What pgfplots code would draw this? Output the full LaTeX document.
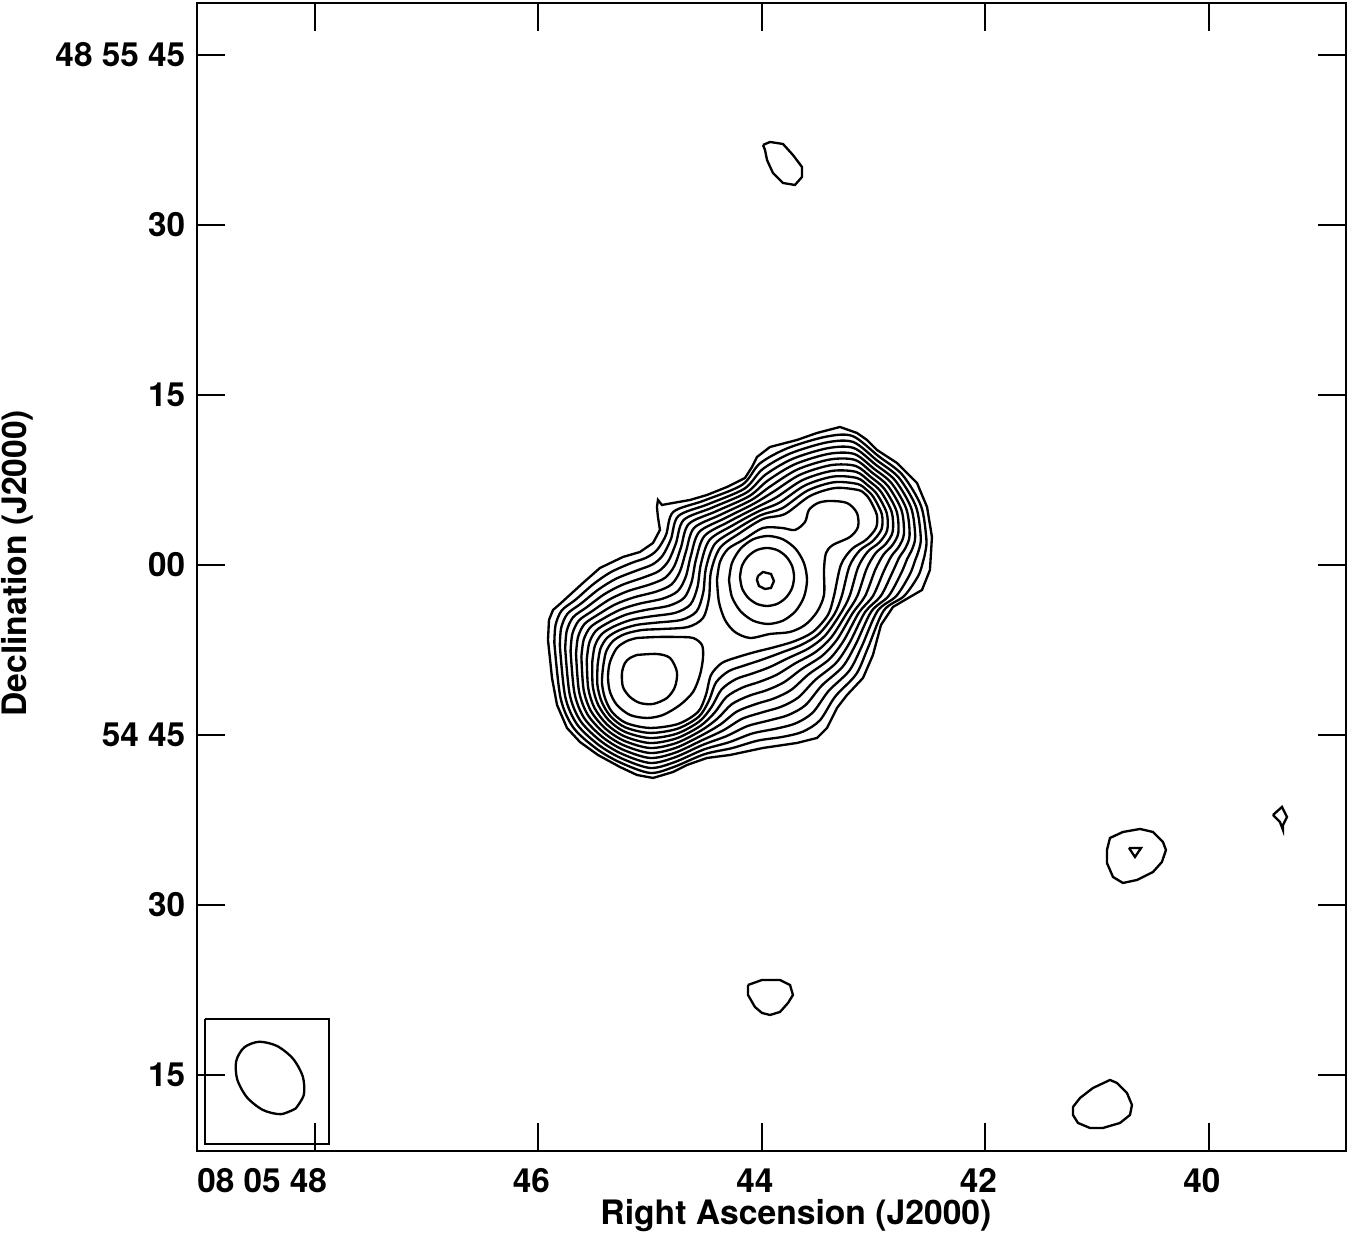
\documentclass[border=0pt]{standalone}
\usepackage{fontspec}
\setmainfont{TeX Gyre Heros}
\usepackage{pgfplots}
\pgfplotsset{compat=1.18}
\begin{document}
\begin{tikzpicture}
\begin{axis}[name=ax, scale only axis, width=344.7pt, height=344.4pt,
 x dir=reverse, xmin=38.774, xmax=49.056, ymin=-51.706, ymax=49.588,
 xtick={48,46,44,42,40}, xticklabels={\makebox[11.4pt][r]{08 05 48},46,44,42,40},
 ytick={-45,-30,-15,0,15,30,45}, yticklabels={15,30,54 45,00,15,30,48 55 45},
 tick align=inside, tick pos=both, major tick length=8.5pt,
 every tick/.style={black, line width=0.6pt},
 axis line style={line width=0.6pt},
 ticklabel style={font=\fontsize{10}{12}\selectfont\bfseries},
 xticklabel style={yshift=-1.8pt, xshift=-2.1pt},
 label style={font=\fontsize{10.1}{12}\selectfont\bfseries},
 xlabel={Right Ascension (J2000)}, ylabel={Declination (J2000)},
 xlabel style={at={(axis description cs:0.5213,-0.0560)}, anchor=center},
 ylabel style={at={(axis description cs:-0.1567,0.512)}, anchor=center},
 ct/.style={black, line width=0.7pt, mark=none, smooth, tension=0.5},
 cp/.style={black, line width=0.7pt, mark=none},
]
% outermost contour
\addplot[cp] coordinates {(45.915,-6.618)(45.906,-4.853)(45.870,-3.971)(45.808,-3.441)(45.602,-1.588)(45.450,-0.265)(45.244,0.706)(45.092,1.147)(44.975,1.941)(44.913,3.088)(44.931,4.235)(44.940,5.118)(44.931,5.735)(44.895,5.294)(44.796,5.471)(44.644,5.735)(44.492,6.176)(44.313,6.882)(44.152,7.676)(44.089,8.647)(44.045,9.529)(43.928,10.412)(43.687,11.029)(43.508,11.647)(43.302,12.176)(43.150,11.647)(43.060,11.029)(42.971,10.147)(42.792,9.000)(42.613,7.235)(42.523,5.118)(42.479,2.471)(42.497,-0.441)(42.568,-2.206)(42.676,-2.824)(42.828,-3.706)(42.935,-5.294)(43.007,-7.941)(43.096,-9.971)(43.239,-11.471)(43.329,-12.618)(43.418,-14.382)(43.508,-15.265)(43.687,-15.706)(43.991,-16.147)(44.286,-16.765)(44.492,-17.029)(44.671,-17.647)(44.796,-18.265)(44.975,-18.794)(45.119,-18.529)(45.271,-17.824)(45.468,-16.765)(45.629,-15.618)(45.745,-14.382)(45.834,-12.353)(45.879,-9.971)(45.915,-6.618)};
% C2
\addplot[ct] coordinates {(45.858,-6.87)(45.847,-5.29)(45.792,-4.01)(45.669,-3.07)(45.509,-1.69)(45.354,-0.64)(45.170,0.17)(45.036,0.64)(44.941,1.30)(44.859,2.64)(44.794,4.68)(44.519,5.68)(44.176,7.08)(44.020,8.95)(43.772,10.30)(43.427,11.32)(43.190,11.38)(42.957,9.60)(42.744,7.96)(42.577,5.21)(42.529,2.31)(42.538,1.17)(42.559,0.30)(42.601,-0.95)(42.728,-2.74)(42.910,-4.02)(43.053,-7.34)(43.157,-9.64)(43.344,-11.60)(43.482,-13.71)(43.635,-14.71)(43.811,-15.16)(44.038,-15.50)(44.268,-16.16)(44.516,-16.70)(44.793,-17.84)(45.002,-18.35)(45.266,-17.44)(45.479,-16.23)(45.687,-14.36)(45.802,-11.76)(45.858,-6.87)};
% C3
\addplot[ct] coordinates {(45.809,-7.11)(45.797,-5.56)(45.741,-4.31)(45.620,-3.41)(45.460,-2.14)(45.303,-1.20)(45.113,-0.46)(44.979,0.05)(44.889,0.83)(44.815,2.28)(44.748,4.32)(44.483,5.36)(44.156,6.74)(43.995,8.45)(43.749,9.83)(43.418,10.82)(43.184,10.85)(42.971,9.23)(42.776,7.71)(42.621,5.12)(42.579,2.42)(42.597,1.29)(42.629,0.42)(42.678,-0.85)(42.798,-2.74)(42.966,-4.06)(43.107,-7.18)(43.218,-9.32)(43.404,-11.12)(43.547,-13.04)(43.700,-13.98)(43.872,-14.44)(44.084,-14.86)(44.294,-15.64)(44.523,-16.29)(44.788,-17.42)(45.002,-17.91)(45.260,-17.05)(45.464,-15.86)(45.655,-14.06)(45.761,-11.61)(45.809,-7.11)};
% C4
\addplot[ct] coordinates {(45.761,-7.36)(45.747,-5.82)(45.690,-4.61)(45.570,-3.74)(45.412,-2.59)(45.252,-1.76)(45.057,-1.09)(44.923,-0.54)(44.837,0.36)(44.770,1.91)(44.701,3.97)(44.448,5.05)(44.135,6.41)(43.970,7.96)(43.727,9.36)(43.409,10.31)(43.179,10.32)(42.984,8.86)(42.809,7.47)(42.665,5.03)(42.629,2.52)(42.656,1.40)(42.700,0.55)(42.755,-0.74)(42.867,-2.74)(43.021,-4.10)(43.162,-7.02)(43.279,-8.99)(43.464,-10.63)(43.611,-12.37)(43.764,-13.24)(43.933,-13.71)(44.131,-14.22)(44.320,-15.11)(44.529,-15.87)(44.784,-16.99)(45.002,-17.47)(45.255,-16.66)(45.448,-15.50)(45.624,-13.77)(45.720,-11.46)(45.761,-7.36)};
% C5
\addplot[ct] coordinates {(45.713,-7.61)(45.697,-6.09)(45.639,-4.91)(45.521,-4.08)(45.364,-3.04)(45.201,-2.31)(45.000,-1.71)(44.867,-1.13)(44.785,-0.11)(44.725,1.55)(44.655,3.62)(44.412,4.73)(44.115,6.07)(43.945,7.47)(43.705,8.89)(43.400,9.81)(43.174,9.79)(42.998,8.49)(42.841,7.22)(42.708,4.94)(42.679,2.63)(42.715,1.52)(42.771,0.67)(42.832,-0.64)(42.937,-2.74)(43.077,-4.15)(43.216,-6.86)(43.339,-8.66)(43.524,-10.15)(43.676,-11.70)(43.829,-12.51)(43.993,-12.99)(44.177,-13.57)(44.346,-14.59)(44.535,-15.46)(44.779,-16.57)(45.002,-17.03)(45.250,-16.27)(45.433,-15.14)(45.593,-13.48)(45.678,-11.31)(45.713,-7.61)};
% C6
\addplot[ct] coordinates {(45.664,-7.85)(45.646,-6.35)(45.588,-5.21)(45.472,-4.41)(45.315,-3.49)(45.150,-2.87)(44.944,-2.34)(44.810,-1.72)(44.734,-0.57)(44.680,1.19)(44.608,3.26)(44.376,4.41)(44.094,5.74)(43.920,6.97)(43.682,8.43)(43.391,9.31)(43.168,9.27)(43.011,8.12)(42.873,6.97)(42.752,4.85)(42.730,2.74)(42.774,1.63)(42.841,0.79)(42.909,-0.53)(43.007,-2.74)(43.132,-4.19)(43.271,-6.71)(43.400,-8.34)(43.584,-9.66)(43.740,-11.03)(43.893,-11.78)(44.054,-12.27)(44.224,-12.93)(44.372,-14.07)(44.541,-15.04)(44.775,-16.15)(45.002,-16.59)(45.244,-15.88)(45.418,-14.78)(45.561,-13.19)(45.637,-11.16)(45.664,-7.85)};
% C7
\addplot[ct] coordinates {(45.616,-8.10)(45.596,-6.62)(45.537,-5.51)(45.423,-4.75)(45.267,-3.94)(45.099,-3.42)(44.888,-2.97)(44.754,-2.31)(44.682,-1.04)(44.636,0.83)(44.562,2.91)(44.340,4.09)(44.074,5.40)(43.895,6.48)(43.660,7.96)(43.382,8.81)(43.163,8.74)(43.025,7.75)(42.905,6.72)(42.796,4.76)(42.780,2.84)(42.833,1.75)(42.912,0.92)(42.986,-0.42)(43.077,-2.74)(43.188,-4.24)(43.326,-6.55)(43.461,-8.01)(43.644,-9.18)(43.805,-10.36)(43.958,-11.05)(44.115,-11.54)(44.270,-12.28)(44.398,-13.55)(44.548,-14.63)(44.770,-15.72)(45.002,-16.15)(45.239,-15.49)(45.403,-14.42)(45.530,-12.90)(45.596,-11.01)(45.616,-8.10)};
% C8
\addplot[ct] coordinates {(45.568,-8.35)(45.546,-6.88)(45.486,-5.81)(45.373,-5.08)(45.219,-4.39)(45.048,-3.98)(44.831,-3.59)(44.697,-2.90)(44.630,-1.51)(44.591,0.47)(44.515,2.56)(44.304,3.78)(44.053,5.06)(43.870,5.98)(43.637,7.49)(43.373,8.30)(43.157,8.21)(43.038,7.38)(42.937,6.48)(42.840,4.68)(42.830,2.95)(42.892,1.86)(42.983,1.04)(43.063,-0.32)(43.147,-2.74)(43.243,-4.28)(43.380,-6.39)(43.522,-7.69)(43.704,-8.69)(43.869,-9.69)(44.022,-10.31)(44.176,-10.82)(44.317,-11.64)(44.424,-13.03)(44.554,-14.22)(44.766,-15.30)(45.002,-15.71)(45.233,-15.11)(45.388,-14.06)(45.499,-12.61)(45.555,-10.86)(45.568,-8.35)};
% C9
\addplot[ct] coordinates {(45.519,-8.59)(45.496,-7.15)(45.435,-6.11)(45.324,-5.42)(45.170,-4.84)(44.997,-4.54)(44.775,-4.22)(44.641,-3.49)(44.578,-1.98)(44.546,0.11)(44.469,2.21)(44.269,3.46)(44.032,4.73)(43.845,5.49)(43.615,7.02)(43.364,7.80)(43.152,7.68)(43.051,7.01)(42.970,6.23)(42.884,4.59)(42.880,3.05)(42.951,1.98)(43.054,1.17)(43.140,-0.21)(43.216,-2.74)(43.299,-4.32)(43.435,-6.23)(43.583,-7.36)(43.764,-8.21)(43.933,-9.02)(44.087,-9.58)(44.237,-10.09)(44.363,-11.00)(44.450,-12.51)(44.560,-13.80)(44.761,-14.88)(45.002,-15.27)(45.228,-14.72)(45.372,-13.69)(45.467,-12.32)(45.514,-10.71)(45.519,-8.59)};
% C10
\addplot[ct] coordinates {(45.471,-8.84)(45.446,-7.41)(45.384,-6.41)(45.275,-5.75)(45.122,-5.29)(44.946,-5.09)(44.719,-4.84)(44.585,-4.09)(44.526,-2.44)(44.501,-0.26)(44.422,1.85)(44.233,3.14)(44.012,4.39)(43.820,5.00)(43.593,6.56)(43.355,7.30)(43.147,7.15)(43.065,6.64)(43.002,5.98)(42.928,4.50)(42.930,3.16)(43.011,2.09)(43.124,1.29)(43.217,-0.11)(43.286,-2.74)(43.354,-4.37)(43.489,-6.07)(43.644,-7.03)(43.824,-7.72)(43.998,-8.35)(44.151,-8.85)(44.298,-9.37)(44.410,-10.35)(44.476,-11.99)(44.566,-13.39)(44.757,-14.45)(45.002,-14.82)(45.223,-14.33)(45.357,-13.33)(45.436,-12.03)(45.473,-10.56)(45.471,-8.84)};
% C11
\addplot[ct] coordinates {(45.423,-9.09)(45.396,-7.68)(45.333,-6.71)(45.226,-6.09)(45.074,-5.74)(44.895,-5.65)(44.662,-5.47)(44.528,-4.68)(44.474,-2.91)(44.457,-0.62)(44.376,1.50)(44.197,2.82)(43.991,4.06)(43.794,4.50)(43.570,6.09)(43.346,6.79)(43.141,6.62)(43.078,6.27)(43.034,5.74)(42.972,4.41)(42.980,3.26)(43.070,2.21)(43.195,1.41)(43.294,0.00)(43.356,-2.74)(43.410,-4.41)(43.544,-5.91)(43.705,-6.71)(43.884,-7.24)(44.062,-7.68)(44.215,-8.12)(44.359,-8.65)(44.456,-9.71)(44.502,-11.47)(44.573,-12.97)(44.752,-14.03)(45.002,-14.38)(45.217,-13.94)(45.342,-12.97)(45.405,-11.74)(45.432,-10.41)(45.423,-9.09)};
% lower-left lobe, two levels
\addplot[ct] coordinates {(45.119,-6.441)(44.940,-6.353)(44.761,-6.353)(44.617,-6.441)(44.537,-7.059)(44.528,-8.206)(44.555,-9.706)(44.617,-11.206)(44.734,-12.353)(44.886,-13.235)(45.029,-13.500)(45.181,-13.235)(45.298,-12.353)(45.360,-11.206)(45.378,-9.882)(45.360,-8.559)(45.298,-7.324)(45.208,-6.706)(45.119,-6.441)};
\addplot[ct] coordinates {(45.119,-7.941)(44.940,-7.853)(44.823,-8.206)(44.761,-9.441)(44.779,-10.765)(44.850,-11.735)(44.975,-12.265)(45.092,-12.176)(45.181,-11.647)(45.244,-10.765)(45.253,-9.529)(45.226,-8.647)(45.181,-8.206)(45.119,-7.941)};
% core and north-west lobe
\addplot[ct] coordinates {(44.403,-1.324)(44.376,0.265)(44.304,1.412)(44.170,2.206)(43.991,3.265)(43.821,3.265)(43.705,3.088)(43.615,3.794)(43.580,4.853)(43.499,5.471)(43.392,5.647)(43.239,5.471)(43.150,4.588)(43.141,3.353)(43.213,2.471)(43.365,1.765)(43.427,1.059)(43.445,-0.441)(43.445,-2.647)(43.508,-4.147)(43.615,-5.294)(43.750,-5.912)(43.928,-6.088)(44.107,-6.441)(44.242,-5.912)(44.331,-4.853)(44.385,-3.265)(44.403,-1.324)};
\addplot[ct] coordinates {(44.295,-1.324)(44.269,0.163)(44.193,1.421)(44.080,2.263)(43.946,2.558)(43.812,2.263)(43.699,1.421)(43.624,0.163)(43.597,-1.324)(43.624,-2.811)(43.699,-4.069)(43.812,-4.911)(43.946,-5.206)(44.080,-4.911)(44.193,-4.069)(44.269,-2.811)(44.295,-1.324)};
\addplot[ct] coordinates {(44.197,-1.059)(44.179,-0.079)(44.126,0.750)(44.048,1.306)(43.955,1.500)(43.862,1.306)(43.784,0.750)(43.731,-0.079)(43.713,-1.059)(43.731,-2.039)(43.784,-2.868)(43.862,-3.424)(43.955,-3.618)(44.048,-3.424)(44.126,-2.868)(44.179,-2.039)(44.197,-1.059)};
\addplot[cp] coordinates {(44.036,-0.971)(43.991,-0.618)(43.919,-0.794)(43.893,-1.412)(43.919,-2.029)(43.973,-2.118)(44.027,-1.853)(44.045,-1.324)(44.036,-0.971)};
% isolated blobs
\addplot[cp] coordinates {(43.991,37.059)(43.928,37.324)(43.812,37.147)(43.723,36.176)(43.642,35.118)(43.642,34.235)(43.705,33.529)(43.812,33.706)(43.902,34.588)(43.955,35.735)(43.973,36.618)(43.991,37.059)};
\addplot[cp] coordinates {(40.913,-25.147)(40.886,-24.088)(40.770,-23.559)(40.617,-23.294)(40.501,-23.559)(40.412,-24.441)(40.385,-25.147)(40.421,-26.206)(40.501,-27.088)(40.644,-27.794)(40.770,-28.059)(40.859,-27.529)(40.913,-26.294)(40.913,-25.147)};
\addplot[cp] coordinates {(40.716,-24.971)(40.608,-24.971)(40.662,-25.765)(40.716,-24.971)};
\addplot[cp] coordinates {(39.427,-22.059)(39.347,-21.353)(39.302,-22.235)(39.338,-22.941)(39.338,-23.382)(39.365,-22.676)(39.427,-22.059)};
\addplot[cp] coordinates {(44.125,-37.059)(44.000,-36.618)(43.839,-36.618)(43.749,-37.059)(43.723,-37.941)(43.767,-38.647)(43.839,-39.441)(43.928,-39.706)(44.000,-39.529)(44.063,-39.000)(44.125,-37.941)(44.125,-37.059)};
\addplot[cp] coordinates {(41.217,-47.824)(41.154,-47.029)(41.038,-46.147)(40.886,-45.441)(40.823,-45.706)(40.734,-46.588)(40.689,-47.647)(40.707,-48.529)(40.796,-49.235)(40.949,-49.676)(41.065,-49.676)(41.172,-49.235)(41.217,-48.529)(41.217,-47.824)};
% beam
\addplot[cp] coordinates {(48.984,-40.059)(47.875,-40.059)(47.875,-51.088)(48.984,-51.088)(48.984,-40.059)};
\addplot[ct] coordinates {(48.173,-47.965)(48.306,-48.459)(48.466,-48.088)(48.609,-46.968)(48.696,-45.388)(48.705,-43.774)(48.633,-42.565)(48.500,-42.071)(48.340,-42.441)(48.197,-43.562)(48.109,-45.141)(48.100,-46.756)(48.173,-47.965)};
\end{axis}
\pgfresetboundingbox
\useasboundingbox ([xshift=-59.1pt,yshift=-25.2pt]ax.south west) rectangle ([xshift=1.2pt,yshift=0.9pt]ax.north east);
\end{tikzpicture}
\end{document}
